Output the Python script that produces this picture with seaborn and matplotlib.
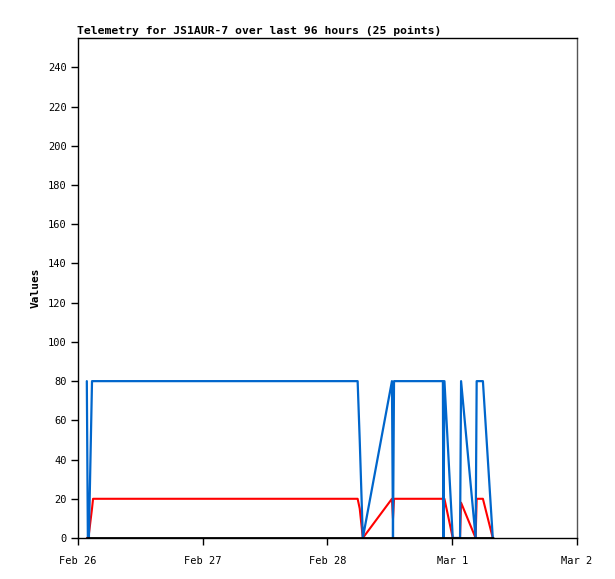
import matplotlib
matplotlib.use('Agg')
import matplotlib.pyplot as plt
import matplotlib.dates as mdates
import seaborn as sns
import pandas as pd

# Telemetry samples (hours after Feb 26 00:00)
hours = [1.7, 1.9, 2.1, 2.7, 2.9, 12, 24, 36, 53.8, 54.2, 54.8, 60.4, 60.6, 60.8,
         66, 70.2, 70.3, 70.5, 72.1, 73.5, 73.7, 76.5, 76.7, 77.9, 79.8]
blue_vals = [80, 0, 0, 80, 80, 80, 80, 80, 80, 50, 0, 80, 0, 80,
             80, 80, 0, 80, 0, 0, 80, 0, 80, 80, 0]
red_vals = [0, 0, 2, 15, 20, 20, 20, 20, 20, 15, 0, 20, 10, 20,
            20, 20, 10, 20, 0, 0, 18, 0, 20, 20, 0]
black_vals = [0] * 25
day_labels = ['Feb 26', 'Feb 27', 'Feb 28', 'Mar 1', 'Mar 2']

start = pd.Timestamp('2023-02-26')
df = pd.DataFrame({
    'time': [start + pd.Timedelta(hours=h) for h in hours],
    'blue': blue_vals,
    'red': red_vals,
    'black': black_vals,
})

sns.set_style('white')
plt.rcParams['font.family'] = ['DejaVu Sans Mono']
plt.rcParams['text.color'] = 'black'
plt.rcParams['xtick.color'] = 'black'
plt.rcParams['ytick.color'] = 'black'
plt.rcParams['axes.labelcolor'] = 'black'

fig = plt.figure(figsize=(6.15, 5.79), dpi=100)
ax = fig.add_axes([0.1268, 0.0708, 0.8114, 0.8636])

sns.lineplot(data=df, x='time', y='red', color='#ff0000', linewidth=1.5,
             sort=False, estimator=None, ax=ax)
sns.lineplot(data=df, x='time', y='blue', color='#0066cc', linewidth=1.6,
             sort=False, estimator=None, ax=ax)
sns.lineplot(data=df, x='time', y='black', color='black', linewidth=2,
             sort=False, estimator=None, ax=ax)

ax.set_xlim(start, start + pd.Timedelta(days=4))
ax.set_ylim(0, 255)
ax.set_yticks(range(0, 241, 20))
ax.set_xticks([start + pd.Timedelta(days=i) for i in range(5)])
ax.set_xticklabels(day_labels)

ax.tick_params(axis='both', direction='out', length=5, width=1, labelsize=7.5,
               left=True, bottom=True, pad=3, colors='black')
ax.tick_params(axis='x', pad=8)
for s in ax.spines.values():
    s.set_color('black')
    s.set_linewidth(1)
ax.spines['right'].set_color('#555555')

ax.set_xlabel('')
ax.set_ylabel('Values', fontsize=8, fontweight='bold', labelpad=5)
ax.set_title('Telemetry for JS1AUR-7 over last 96 hours (25 points)',
             loc='left', fontsize=8.2, fontweight='bold', pad=3, x=-0.002)

fig.savefig('out.png', dpi=100)
